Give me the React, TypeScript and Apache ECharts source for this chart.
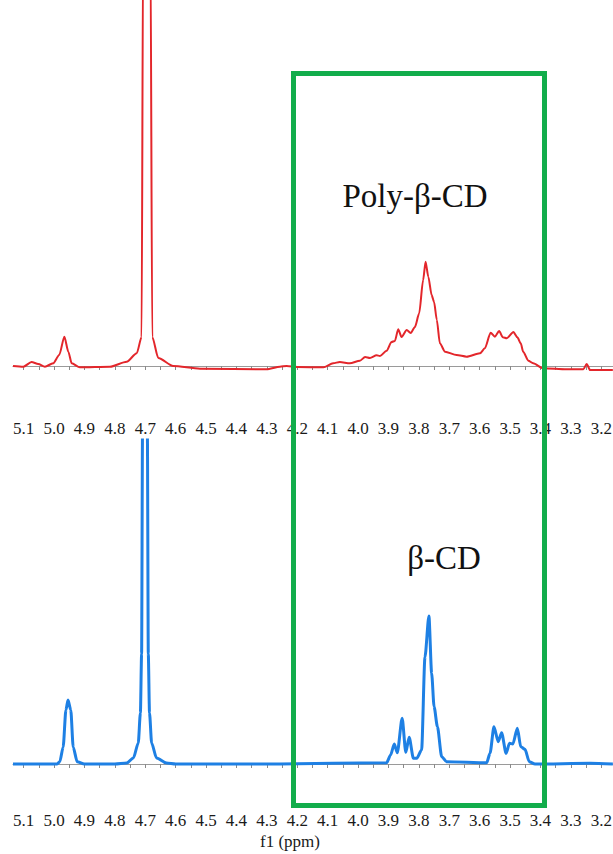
import React, { useEffect, useRef } from "react";
import * as echarts from "echarts";

// Chemical-shift axis (ppm), labelled ticks and minor ticks
const PPM_LABELS = [5.1, 5.0, 4.9, 4.8, 4.7, 4.6, 4.5, 4.4, 4.3, 4.2, 4.1, 4.0, 3.9, 3.8, 3.7, 3.6, 3.5, 3.4, 3.3, 3.2];
const PPM_MINOR = [5.05, 4.95, 4.85, 4.75, 4.65, 4.55, 4.45, 4.35, 4.25, 4.15, 4.05, 3.95, 3.85, 3.75, 3.65, 3.55, 3.45, 3.35, 3.25];

// Poly-β-CD 1H NMR trace (shift in ppm, intensity in a.u.)
const polyShift = [
  5.135, 5.101, 5.074, 5.052, 5.03, 5.003, 4.983, 4.966, 4.953, 4.942, 4.915, 4.816, 4.761, 4.728, 4.712,
  4.707, 4.695, 4.683, 4.677, 4.657, 4.608, 4.52, 4.301, 4.257, 4.235, 4.2, 4.114, 4.082, 4.06, 4.027,
  3.994, 3.977, 3.961, 3.939, 3.928, 3.906, 3.89, 3.879, 3.868, 3.857, 3.84, 3.827, 3.813, 3.799, 3.786, 3.778,
  3.769, 3.758, 3.75, 3.741, 3.731, 3.714, 3.676, 3.643, 3.599, 3.583, 3.564, 3.55, 3.536, 3.524, 3.511, 3.489,
  3.476, 3.465, 3.457, 3.44, 3.424, 3.391, 3.314, 3.259, 3.248, 3.237, 3.162,
];
const polyIntensity = [
  0, -0.7, 4, 2, -0.7, 2.7, 11, 29.3, 14.3, 2.7, -1.3, -0.7, 4.3, 12.7, 29,
  430, 3000, 430, 29, 8, 0, -2.7, -3.3, -0.7, 0, -1, -1.3, 2.7, 4, 2.7,
  5.3, 9, 8, 10.7, 10, 15.3, 24, 25, 36.7, 29, 36, 33, 39, 52.7, 86, 104.3,
  89.3, 71, 64, 46, 22.7, 14.3, 11, 9.3, 12.7, 17.7, 33.3, 29.3, 35, 28.7, 27.7, 34,
  28.7, 22.7, 14.3, 5.3, 2.7, -2.3, -3.3, -3.3, 2, -4, -4,
];

// β-CD 1H NMR trace (shift in ppm, intensity in a.u.)
const cdShift = [
  5.135, 4.99, 4.981, 4.97, 4.961, 4.954, 4.945, 4.937, 4.924, 4.9, 4.8, 4.761, 4.739, 4.723, 4.716, 4.712,
  4.709, 4.701, 4.693, 4.69, 4.686, 4.679, 4.663, 4.63, 4.6, 4.257, 3.906, 3.893, 3.881, 3.871, 3.855, 3.843,
  3.832, 3.818, 3.807, 3.791, 3.78, 3.767, 3.758, 3.75, 3.739, 3.725, 3.709, 3.577, 3.566, 3.553, 3.539, 3.528,
  3.513, 3.502, 3.491, 3.476, 3.465, 3.451, 3.437, 3.418, 3.237, 3.162,
];
const cdIntensity = [
  0, 0, 2.3, 17, 54, 64, 54, 17, 2.3, 0, 0, 1, 6, 21, 51, 110,
  330, 3000, 330, 110, 51, 21, 6, 1, 0, 0, 1.3, 9, 20, 11.3, 45.7, 11.7,
  26.7, 5.7, 5.7, 14, 107, 148, 90.7, 57.3, 37.3, 7.3, 2.3, 1.3, 10.7, 37.3, 22.3, 31.3,
  10.7, 20.7, 20, 35.7, 17.3, 14.7, 2.3, 0, 0.7, 0,
];

const pairs = (xs: number[], ys: number[]) => xs.map((x, i) => [x, ys[i]]);

const SERIF = "Liberation Serif";

function ppmAxis(gridIndex: number, labelMargin: number) {
  return {
    type: "value" as const,
    gridIndex,
    min: 3.1615,
    max: 5.135,
    inverse: true,
    splitLine: { show: false },
    axisLine: { show: true, lineStyle: { color: "#9a9a9a", width: 1 } },
    axisTick: {
      show: true,
      length: 4,
      customValues: [...PPM_LABELS, ...PPM_MINOR],
      lineStyle: { color: "#8a8a8a", width: 1 },
    },
    axisLabel: {
      show: true,
      customValues: PPM_LABELS,
      formatter: (v: number) => v.toFixed(1),
      margin: labelMargin,
      fontFamily: SERIF,
      fontSize: 17,
      lineHeight: 17,
      color: "#1a1a1a",
      hideOverlap: false,
    },
  };
}

export default function App() {
  const ref = useRef<HTMLDivElement>(null);

  useEffect(() => {
    if (!ref.current) return;
    const chart = echarts.init(ref.current, undefined, { renderer: "svg" });
    chart.setOption({
      animation: false,
      backgroundColor: "#ffffff",
      grid: [
        { left: 13, top: 0, width: 600, height: 409, outerBoundsMode: "none", containLabel: false },
        { left: 13, top: 440, width: 600, height: 364, outerBoundsMode: "none", containLabel: false },
      ],
      xAxis: [ppmAxis(0, 11), ppmAxis(1, 8)],
      yAxis: [
        { type: "value", gridIndex: 0, min: -43, max: 366, show: false },
        { type: "value", gridIndex: 1, min: -40, max: 324, show: false },
      ],
      series: [
        {
          name: "Poly-β-CD",
          type: "line",
          xAxisIndex: 0,
          yAxisIndex: 0,
          data: pairs(polyShift, polyIntensity),
          showSymbol: false,
          smooth: 0.25,
          smoothMonotone: "x",
          lineStyle: { color: "#e3262b", width: 2 },
          clip: true,
        },
        {
          name: "β-CD",
          type: "line",
          xAxisIndex: 1,
          yAxisIndex: 1,
          data: pairs(cdShift, cdIntensity),
          showSymbol: false,
          smooth: 0.25,
          smoothMonotone: "x",
          lineStyle: { color: "#1e80e4", width: 3 },
          clip: true,
        },
      ],
      graphic: [
        {
          type: "rect",
          z: 100,
          shape: { x: 293.5, y: 73.5, width: 251, height: 732 },
          style: { fill: "none", stroke: "#12ad4b", lineWidth: 5 },
        },
        {
          type: "text",
          z: 100,
          x: 415,
          y: 196,
          style: {
            text: "Poly-β-CD",
            fontFamily: SERIF,
            fontSize: 33,
            fill: "#111111",
            align: "center",
            verticalAlign: "middle",
          },
        },
        {
          type: "text",
          z: 100,
          x: 444,
          y: 558,
          style: {
            text: "β-CD",
            fontFamily: SERIF,
            fontSize: 33,
            fill: "#111111",
            align: "center",
            verticalAlign: "middle",
          },
        },
        {
          type: "text",
          z: 100,
          x: 290,
          y: 841,
          style: {
            text: "f1 (ppm)",
            fontFamily: SERIF,
            fontSize: 17,
            lineHeight: 17,
            fill: "#1a1a1a",
            align: "center",
            verticalAlign: "middle",
          },
        },
      ],
    });
    return () => chart.dispose();
  }, []);

  return (
    <div
      ref={ref}
      style={{ position: "absolute", left: 0, top: 0, width: 613, height: 854, background: "#ffffff" }}
    />
  );
}
